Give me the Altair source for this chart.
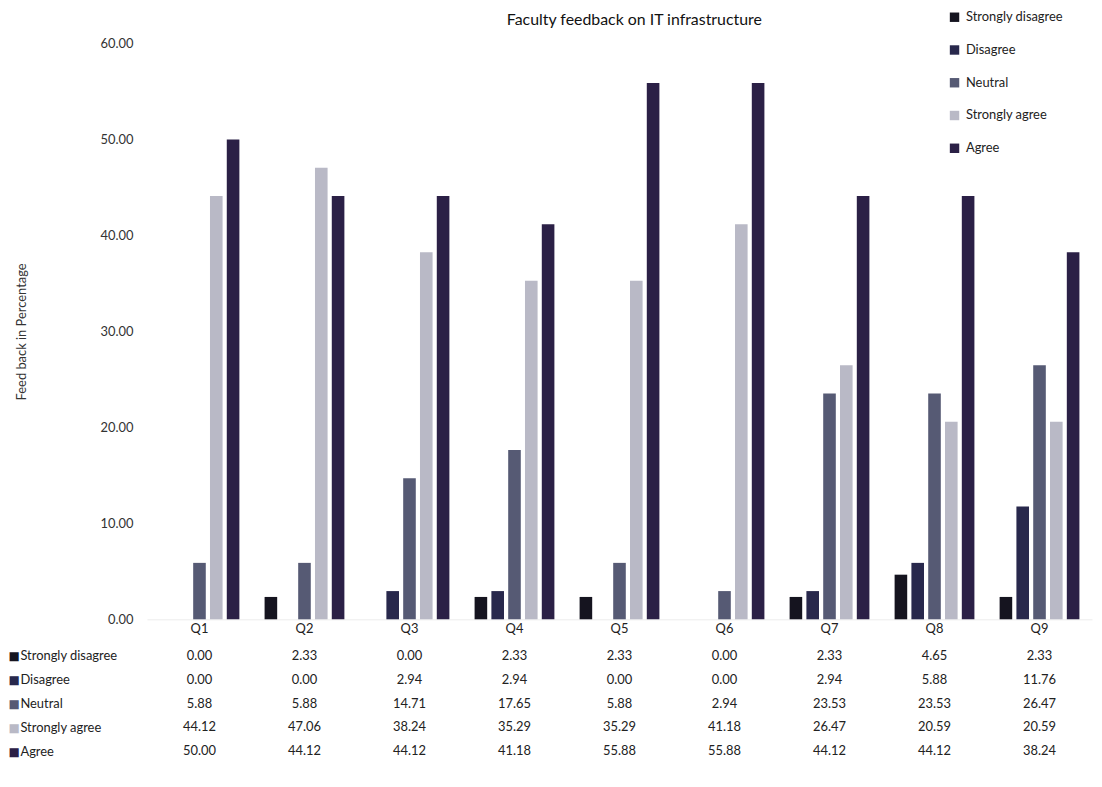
import altair as alt
import pandas as pd

questions = ["Q1", "Q2", "Q3", "Q4", "Q5", "Q6", "Q7", "Q8", "Q9"]
categories = ["Strongly disagree", "Disagree", "Neutral", "Strongly agree", "Agree"]
strongly_disagree = [0.00, 2.33, 0.00, 2.33, 2.33, 0.00, 2.33, 4.65, 2.33]
disagree = [0.00, 0.00, 2.94, 2.94, 0.00, 0.00, 2.94, 5.88, 11.76]
neutral = [5.88, 5.88, 14.71, 17.65, 5.88, 2.94, 23.53, 23.53, 26.47]
strongly_agree = [44.12, 47.06, 38.24, 35.29, 35.29, 41.18, 26.47, 20.59, 20.59]
agree = [50.00, 44.12, 44.12, 41.18, 55.88, 55.88, 44.12, 44.12, 38.24]
y_ticks = [0, 10, 20, 30, 40, 50, 60]
colors = ["#15141f", "#28284c", "#565a74", "#b9b9c6", "#2b2046"]

series = [strongly_disagree, disagree, neutral, strongly_agree, agree]
rows = []
for cat, vals in zip(categories, series):
    for q, v in zip(questions, vals):
        rows.append({"Question": q, "Response": cat, "Value": v})
df = pd.DataFrame(rows)

FONT = "Lato"
x_scale = alt.Scale(domain=questions, paddingInner=0.2, paddingOuter=0.1)

bars = alt.Chart(df).mark_bar().encode(
    x=alt.X("Question:N", sort=questions, scale=x_scale,
            axis=alt.Axis(title=None, labelAngle=0, ticks=False, domain=True,
                          domainColor="#ececec", labelFontSize=13, labelPadding=3,
                          labelColor="#222222", labelFont=FONT, grid=False)),
    xOffset=alt.XOffset("Response:N", sort=categories,
                        scale=alt.Scale(domain=categories, paddingInner=0.25, paddingOuter=0.125)),
    y=alt.Y("Value:Q", scale=alt.Scale(domain=[0, 60]),
            axis=alt.Axis(values=y_ticks, format=".2f", grid=False, domain=False,
                          ticks=False, labelPadding=14, labelFontSize=13,
                          labelColor="#333333", labelFont=FONT,
                          title="Feed back in Percentage", titleFontSize=13,
                          titleFontWeight="normal", titleFont=FONT,
                          titleColor="#333333", titlePadding=72)),
    color=alt.Color("Response:N", sort=categories,
                    scale=alt.Scale(domain=categories, range=colors),
                    legend=alt.Legend(orient="none", legendX=807, legendY=-33,
                                      title=None, symbolType="square", symbolSize=90,
                                      symbolStrokeWidth=0, labelFontSize=13,
                                      labelFont=FONT, labelColor="#222222",
                                      rowPadding=19, labelOffset=5, padding=0)),
).properties(
    width=952, height=580,
    title=alt.TitleParams("Faculty feedback on IT infrastructure", fontSize=16,
                          font=FONT, fontWeight="normal", color="#111111",
                          anchor="middle", offset=10, dx=15),
)

cond = {
    "condition": [
        {"test": f"datum.value === '{c}'", "value": col}
        for c, col in zip(categories[:-1], colors[:-1])
    ],
    "value": colors[-1],
}

table_text = alt.Chart(df).mark_text(fontSize=13, font=FONT, color="#222222").encode(
    x=alt.X("Question:N", sort=questions, scale=x_scale, axis=None),
    y=alt.Y("Response:N", sort=categories,
            scale=alt.Scale(domain=categories, paddingInner=0, paddingOuter=0),
            axis=alt.Axis(title=None, labelAlign="left", labelPadding=128,
                          ticks=False, domain=False, labelFontSize=13,
                          labelFont=FONT, labelColor="#222222", orient="left")),
    text=alt.Text("Value:Q", format=".2f"),
)

keys = alt.Chart(df).mark_point(opacity=0).encode(
    y=alt.Y("Response:N", sort=categories,
            scale=alt.Scale(domain=categories, paddingInner=0, paddingOuter=0),
            axis=alt.Axis(title=None, labelAlign="left", labelPadding=140,
                          ticks=False, domain=False, labelFontSize=12,
                          labelFont="DejaVu Sans", labelExpr="'■'",
                          labelColor=cond, orient="left")),
)

table = alt.layer(table_text, keys).resolve_scale(y="independent").resolve_axis(
    y="independent").properties(width=952, height=120)

chart = alt.vconcat(bars, table, spacing=9).configure(font=FONT).configure_view(
    stroke=None).properties(padding={"left": 0, "top": 0, "right": 2, "bottom": 2})

chart.save("out.html", embed_options={"renderer": "svg", "actions": False})
